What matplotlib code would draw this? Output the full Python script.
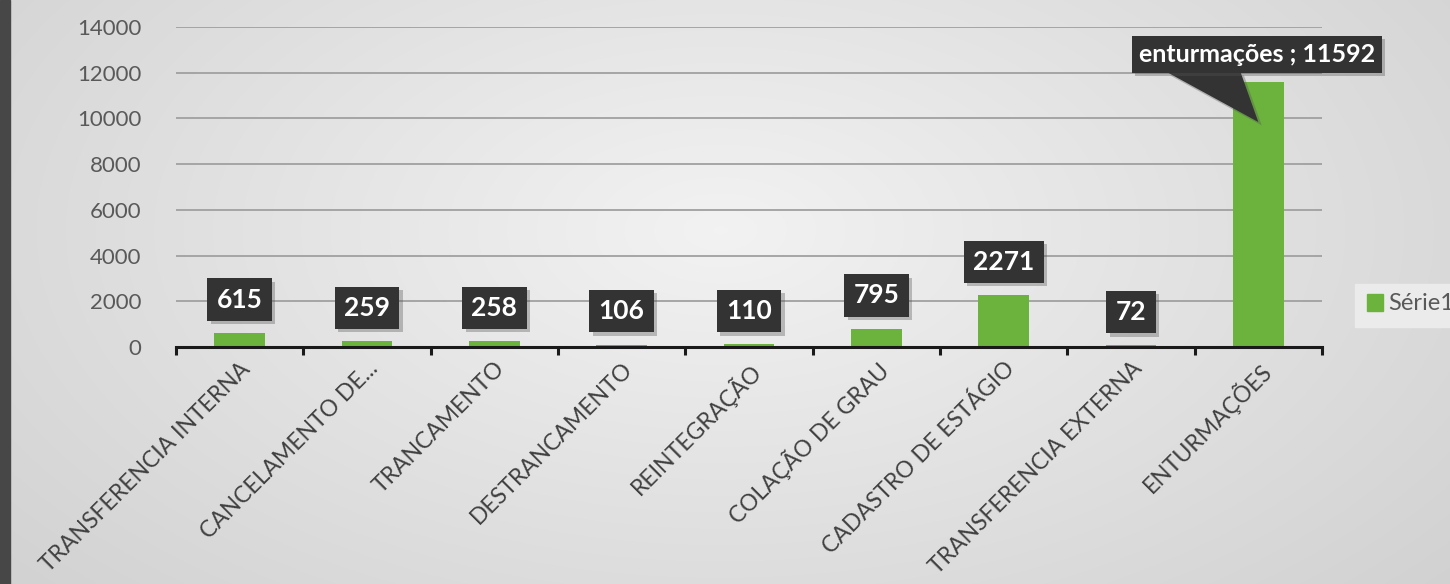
import matplotlib
matplotlib.use("Agg")
import matplotlib.pyplot as plt
import matplotlib.patheffects as pe
import numpy as np
from matplotlib.patches import Rectangle, Polygon

categories = ["TRANSFERENCIA INTERNA", "CANCELAMENTO DE...", "TRANCAMENTO",
              "DESTRANCAMENTO", "REINTEGRAÇÃO", "COLAÇÃO DE GRAU",
              "CADASTRO DE ESTÁGIO", "TRANSFERENCIA EXTERNA", "ENTURMAÇÕES"]
values = [615, 259, 258, 106, 110, 795, 2271, 72, 11592]
callout_name = "enturmações"
yticks = [0, 2000, 4000, 6000, 8000, 10000, 12000, 14000]
series_name = "Série1"

W, H = 1450, 584
fig = plt.figure(figsize=(W / 100, H / 100), dpi=100)
plt.rcParams['font.family'] = ['Lato', 'DejaVu Sans']

# background gradient
bg = fig.add_axes([0, 0, 1, 1], zorder=-10)
yy, xx = np.mgrid[0:H, 0:W]
r = np.sqrt(((xx - 720) / 900.0) ** 2 + ((yy - 230) / 500.0) ** 2)
val = 0.95 - 0.12 * np.clip(r, 0, 1.3)
bg.imshow(np.dstack([val, val, val]), extent=[0, W, H, 0], aspect='auto', interpolation='bilinear')
bg.add_patch(Rectangle((0, 0), 10, H, color='#474747'))
bg.add_patch(Rectangle((1355, 284), 100, 43, color='#ebebeb'))
bg.set_xlim(0, W); bg.set_ylim(H, 0)
bg.axis('off')

left, right = 176 / W, 1322 / W
bottom, top = 1 - 347 / H, 1 - 27 / H
ax = fig.add_axes([left, bottom, right - left, top - bottom])
ax.set_facecolor('none')
x = np.arange(len(categories))
green = '#6cb33e'
ax.bar(x, values, width=0.4, color=green, zorder=3)
ax.set_xlim(-0.5, len(categories) - 0.5)
ax.set_ylim(0, 14000)
ax.set_yticks(yticks)
ax.set_yticklabels([str(t) for t in yticks], fontsize=16, color='#595959')
ax.yaxis.grid(True, color='#a0a0a0', linewidth=1.3, zorder=0)
ax.tick_params(axis='y', length=0, pad=25)
for s in ['top', 'right', 'left']:
    ax.spines[s].set_visible(False)
ax.spines['bottom'].set_color('#1a1a1a')
ax.spines['bottom'].set_linewidth(2.2)
ax.spines['bottom'].set_zorder(5)

ax.set_xticks(np.arange(len(categories) + 1) - 0.5, minor=False)
ax.set_xticklabels([])
ax.tick_params(axis='x', which='major', direction='out', length=6, width=2.2, color='#1a1a1a')
ax.set_xticks(x, minor=True)
ax.set_xticklabels(categories, minor=True, rotation=45, ha='right', va='top',
                   rotation_mode='anchor', fontsize=16.5, color='#404040')
ax.tick_params(axis='x', which='minor', length=0, pad=8)

shadow = [pe.SimplePatchShadow(offset=(2.5, -2.5), shadow_rgbFace='#555555', alpha=0.35), pe.Normal()]

# data labels
for i, v in enumerate(values[:-1]):
    t = ax.annotate(str(v), xy=(i, v), xytext=(0, 24), textcoords='offset points',
                    ha='center', va='center', fontsize=19, fontweight='bold',
                    color='white', zorder=7,
                    bbox=dict(boxstyle='square,pad=0.35', fc='#333333', ec='none'),
                    annotation_clip=False)
    t.get_bbox_patch().set_path_effects(shadow)

# callout for last bar
i, v = len(values) - 1, values[-1]
tip = (i, v - 1750)
base1 = (i - 0.72, v + 440)
base2 = (i - 0.14, v + 440)
ax.add_patch(Polygon([base1, base2, tip], closed=True, fc='#333333', ec='none', zorder=7,
                     clip_on=False, path_effects=shadow))
t = ax.annotate(f"{callout_name} ; {v}", xy=(i, v), xytext=(-1, 20),
                textcoords='offset points', ha='center', va='center', fontsize=18,
                fontweight='bold', color='white', zorder=8,
                bbox=dict(boxstyle='square,pad=0.28', fc='#333333', ec='none'),
                annotation_clip=False)
t.get_bbox_patch().set_path_effects(shadow)

# legend (cut at right edge)
fig.patches.append(Rectangle((1367 / W, 1 - 311 / H), 16 / W, 17 / H, color=green,
                             transform=fig.transFigure, figure=fig))
fig.text(1388 / W, 1 - 304 / H, series_name, fontsize=17, color='#595959', va='center', ha='left')

fig.savefig('out.png', dpi=100)
